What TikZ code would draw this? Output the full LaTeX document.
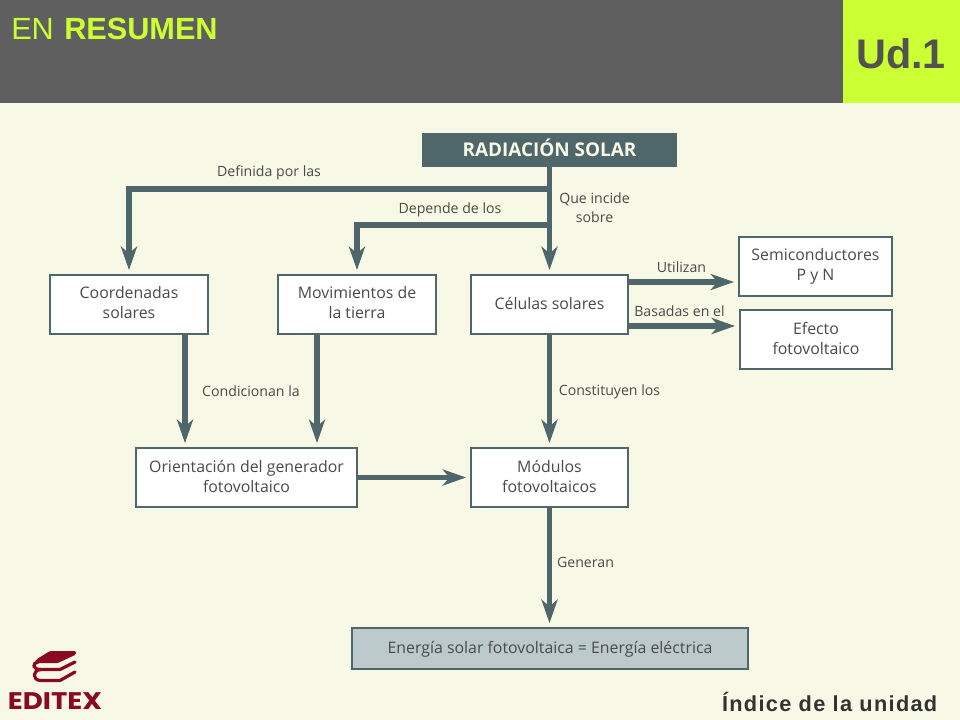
\documentclass[tikz,border=0pt]{standalone}
\usepackage{fontspec}
\setmainfont{Open Sans}
\newfontfamily\headfont{Liberation Sans}
\newfontfamily\footfont[LetterSpace=6]{Liberation Sans}
\newfontfamily\logofont{Poppins}
\usetikzlibrary{arrows.meta,calc}
\definecolor{pagebg}{HTML}{F7F9E6}
\definecolor{bandgrey}{HTML}{5F5F5F}
\definecolor{lime}{HTML}{CCFF33}
\definecolor{slate}{HTML}{4F666A}
\definecolor{boxfill}{HTML}{FFFFFF}
\definecolor{paleslate}{HTML}{BCCACC}
\definecolor{labelgrey}{HTML}{4A4A4A}
\definecolor{logored}{HTML}{8A0A24}
\tikzset{
  x=0.75pt,y=-0.75pt,
  box/.style={draw=slate,line width=1.4pt,fill=boxfill,text=labelgrey,align=center,inner sep=0pt,font=\fontsize{11.9}{15}\selectfont},
  lbl/.style={text=labelgrey,align=center,inner sep=0pt,font=\fontsize{10.6}{14.25}\selectfont},
  conn/.style={draw=slate,line width=4.1pt,shorten >=3pt,-{Stealth[length=17.5pt,width=12pt,inset=5pt]}},
  head/.style={anchor=base west,inner sep=0pt},
  bookline/.style={draw=logored,line width=2.4pt,line cap=round,line join=round},
}
\newcommand{\boxat}[6]{\node[box,#6,minimum width=#3*0.75pt,minimum height=#4*0.75pt] (#1) at (#2) {#5\\[-12.7pt]\mbox{}};}
\begin{document}
\begin{tikzpicture}
\useasboundingbox (0,0) rectangle (960,720);
\fill[pagebg] (0,0) rectangle (960,720);
\fill[bandgrey] (0,0) rectangle (843,103);
\fill[lime] (843,0) rectangle (960,103);
% header texts
\node[head,text=lime,font=\headfont\fontsize{23}{26}\selectfont] (en) at (11,40) {EN};
\node[head,text=lime,font=\headfont\bfseries\fontsize{23}{26}\selectfont] (res) at (64,40) {RESUMEN};
\node[head,text=black!68,font=\headfont\bfseries\fontsize{31}{34}\selectfont] (ud) at (856,69) {Ud.1};
% boxes
\node[fill=slate,text=pagebg,inner sep=0pt,minimum width=191.25pt,minimum height=25.5pt,text height=12pt,text depth=2.5pt,font=\bfseries\fontsize{14.2}{16}\selectfont] (rad) at (549.5,150) {RADIACIÓN SOLAR};
\boxat{coord}{129,304.5}{158}{59}{Coordenadas\\solares}{}
\boxat{mov}{357,304.5}{158}{59}{Movimientos de\\la tierra}{}
\boxat{cel}{549.5,304.5}{157}{59}{Células solares}{}
\boxat{semi}{815.5,266.5}{153}{59}{Semiconductores\\P y N}{}
\boxat{efecto}{816,339.5}{152}{59}{Efecto\\fotovoltaico}{}
\boxat{ori}{246.5,477.5}{221}{59}{Orientación del generador\\fotovoltaico}{}
\boxat{mod}{549.5,477.5}{157}{59}{Módulos\\fotovoltaicos}{}
\boxat{ener}{550,648.5}{396}{41}{Energía solar fotovoltaica = Energía eléctrica}{fill=paleslate}
% junctions
\coordinate (j1) at (549.5,189);
\coordinate (j2) at (549.5,225);
\coordinate (o1) at (185,334);
\coordinate (o2) at (317,334);
% connectors
\draw[conn] (rad.south) -- (cel.north);
\draw[conn] (j1) -| (coord.north);
\draw[conn] (j2) -| (mov.north);
\draw[conn] (cel.east |- 0,282) -- (semi.west |- 0,282);
\draw[conn] (cel.east |- 0,326) -- (efecto.west |- 0,326);
\draw[conn] (o1) -- (o1 |- ori.north);
\draw[conn] (o2) -- (o2 |- ori.north);
\draw[conn] (cel.south) -- (mod.north);
\draw[conn] (ori.east) -- (mod.west);
\draw[conn] (mod.south) -- (mod.south |- ener.north);
% labels
\node[lbl] (l1) at (269,173) {Definida por las};
\node[lbl] (l2) at (450,209.5) {Depende de los};
\node[lbl] (l3) at (594.5,208) {Que incide\\sobre};
\node[lbl] (l4) at (681.5,267) {Utilizan};
\node[lbl] (l5) at (679.5,311.5) {Basadas en el};
\node[lbl] (l6) at (251,391) {Condicionan la};
\node[lbl] (l7) at (609.5,392) {Constituyen los};
\node[lbl] (l8) at (585.5,562.5) {Generan};
% footer
\node[anchor=base east,inner sep=0pt,text=black!80,font=\footfont\bfseries\fontsize{16.3}{18}\selectfont] (idx) at (937.5,711) {Índice de la unidad};
% logo
\fill[logored,rounded corners=1pt] (50,651) -- (76,651) -- (76,654.5) -- (58,663) -- (40,663) .. controls (36,663) and (33,664.5) .. (33,664) -- (37,659) -- cycle;
\draw[bookline] (75,662) -- (60,669.5) -- (41,669.5) .. controls (32,669.5) and (32,663) .. (38,662);
\draw[bookline] (75,672) -- (60,680.5) -- (41,680.5) .. controls (32,680.5) and (32,670) .. (41,669.5);
\node[inner sep=0pt,text=logored,font=\logofont\bfseries\fontsize{18}{19}\selectfont,xscale=1.15] (logo) at (55,701) {EDITEX};
\end{tikzpicture}
\end{document}
